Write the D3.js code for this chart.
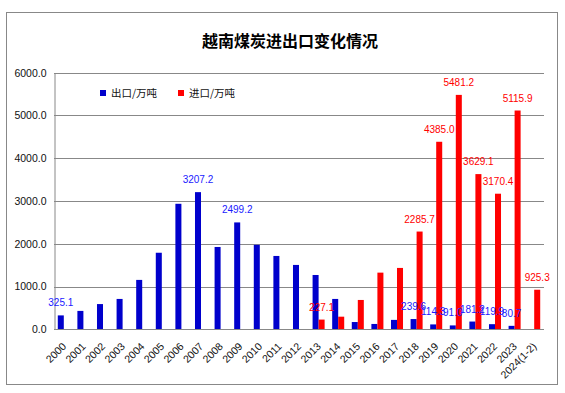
<!DOCTYPE html>
<html>
<head>
<meta charset="utf-8">
<script src="https://cdn.jsdelivr.net/npm/d3@7"></script>
<style>
  body { margin: 0; background: #fff; }
  text { font-family: "Liberation Sans", "Noto Sans CJK SC", sans-serif; }
</style>
</head>
<body>
<div id="chart"></div>
<script>
// data
const years = ['2000', '2001', '2002', '2003', '2004', '2005', '2006', '2007', '2008', '2009',
  '2010', '2011', '2012', '2013', '2014', '2015', '2016', '2017', '2018', '2019',
  '2020', '2021', '2022', '2023', '2024(1-2)']
const exportVals = [325.1, 430, 590, 710, 1155, 1790, 2935, 3207.2, 1925, 2499.2,
  1975, 1715, 1505, 1270, 710, 170, 125, 220, 239.6, 114.3,
  91.0, 181.2, 119.9, 80.7, null]
const importVals = [null, null, null, null, null, null, null, null, null, null,
  null, null, null, 227.1, 295, 686, 1325, 1435, 2285.7, 4385.0,
  5481.2, 3629.1, 3170.4, 5115.9, 925.3]
const exportLabelYears = ['2000', '2007', '2009', '2018', '2019', '2020', '2021', '2022', '2023']
const importLabelYears = ['2013', '2018', '2019', '2020', '2021', '2022', '2023', '2024(1-2)']
const yTicks = [0, 1000, 2000, 3000, 4000, 5000, 6000]
const seriesNames = ['出口/万吨', '进口/万吨']
const title = '越南煤炭进出口变化情况'

const width = 565,
  height = 393
const plotLeft = 54, plotRight = 544, plotTop = 72.7, plotBottom = 329.3
const colors = ['#0000CC', '#FF0000']
const labelColors = ['#1a1aff', '#FF0000']

const svg = d3.select('#chart')
  .append('svg')
  .attr('width', width)
  .attr('height', height)

// outer frame
svg.append('rect')
  .attr('x', 6.5).attr('y', 12.5)
  .attr('width', 551).attr('height', 372)
  .attr('fill', '#fff')
  .attr('stroke', '#888')
  .attr('stroke-width', 1)

svg.append('text')
  .attr('x', 290).attr('y', 47)
  .attr('text-anchor', 'middle')
  .style('font-family', '"Noto Sans CJK SC", sans-serif')
  .style('font-size', '16px')
  .style('font-weight', 'bold')
  .text(title)

const yScale = d3.scaleLinear()
  .domain([0, 6000])
  .range([plotBottom, plotTop])

const xScale = d3.scaleBand()
  .domain(years)
  .range([plotLeft, plotRight])
  .paddingInner(0)

const xSub = d3.scaleBand()
  .domain([0, 1])
  .range([0, xScale.bandwidth()])
  .paddingOuter(0.63)

// gridlines
svg.append('g')
  .selectAll('line')
  .data(yTicks.filter(d => d > 0))
  .enter()
  .append('line')
  .attr('x1', plotLeft).attr('x2', plotRight)
  .attr('y1', d => Math.round(yScale(d)) + 0.5)
  .attr('y2', d => Math.round(yScale(d)) + 0.5)
  .attr('stroke', '#888')

// y axis
const yAxis = d3.axisLeft(yScale)
  .tickValues(yTicks)
  .tickFormat(d3.format('.1f'))
  .tickSize(0)
  .tickPadding(8)

const yg = svg.append('g')
  .attr('transform', `translate(${plotLeft + 0.5},0)`)
  .call(yAxis)
yg.select('.domain').attr('stroke', '#888')
yg.selectAll('text')
  .style('font-family', '"Liberation Sans", sans-serif')
  .style('font-size', '10.5px')
  .attr('fill', '#111')

// bars
const series = [exportVals, importVals]
series.forEach((vals, s) => {
  svg.append('g')
    .selectAll('rect')
    .data(years.map((y, i) => ({ year: y, v: vals[i] })).filter(d => d.v != null))
    .enter()
    .append('rect')
    .attr('x', d => xScale(d.year) + xSub(s))
    .attr('y', d => yScale(d.v))
    .attr('width', xSub.bandwidth())
    .attr('height', d => plotBottom - yScale(d.v))
    .attr('fill', colors[s])
})

// x axis line
svg.append('line')
  .attr('x1', plotLeft).attr('x2', plotRight)
  .attr('y1', Math.round(plotBottom) + 0.5).attr('y2', Math.round(plotBottom) + 0.5)
  .attr('stroke', '#888')

// x labels
svg.append('g')
  .selectAll('text')
  .data(years)
  .enter()
  .append('text')
  .attr('transform', d => `translate(${xScale(d) + xScale.bandwidth() / 2 + 3},347) rotate(-45)`)
  .attr('text-anchor', 'end')
  .style('font-size', '10.5px')
  .attr('fill', '#111')
  .text(d => d)

// data labels
const labelYears = [exportLabelYears, importLabelYears]
series.forEach((vals, s) => {
  svg.append('g')
    .selectAll('text')
    .data(years.map((y, i) => ({ year: y, v: vals[i] })).filter(d => labelYears[s].includes(d.year)))
    .enter()
    .append('text')
    .attr('x', d => xScale(d.year) + xSub(s) + xSub.bandwidth() / 2)
    .attr('y', d => yScale(d.v) - 9)
    .attr('text-anchor', 'middle')
    .style('font-size', '10px')
    .attr('fill', labelColors[s])
    .text(d => d3.format('.1f')(d.v))
})

// legend
const legendX = [100, 178]
seriesNames.forEach((name, s) => {
  svg.append('rect')
    .attr('x', legendX[s]).attr('y', 90)
    .attr('width', 6).attr('height', 6)
    .attr('fill', colors[s])
  svg.append('text')
    .attr('x', legendX[s] + 11).attr('y', 97)
    .style('font-family', '"Noto Sans CJK SC", sans-serif')
    .style('font-size', '10.5px')
    .attr('fill', '#111')
    .text(name)
})
</script>
</body>
</html>
